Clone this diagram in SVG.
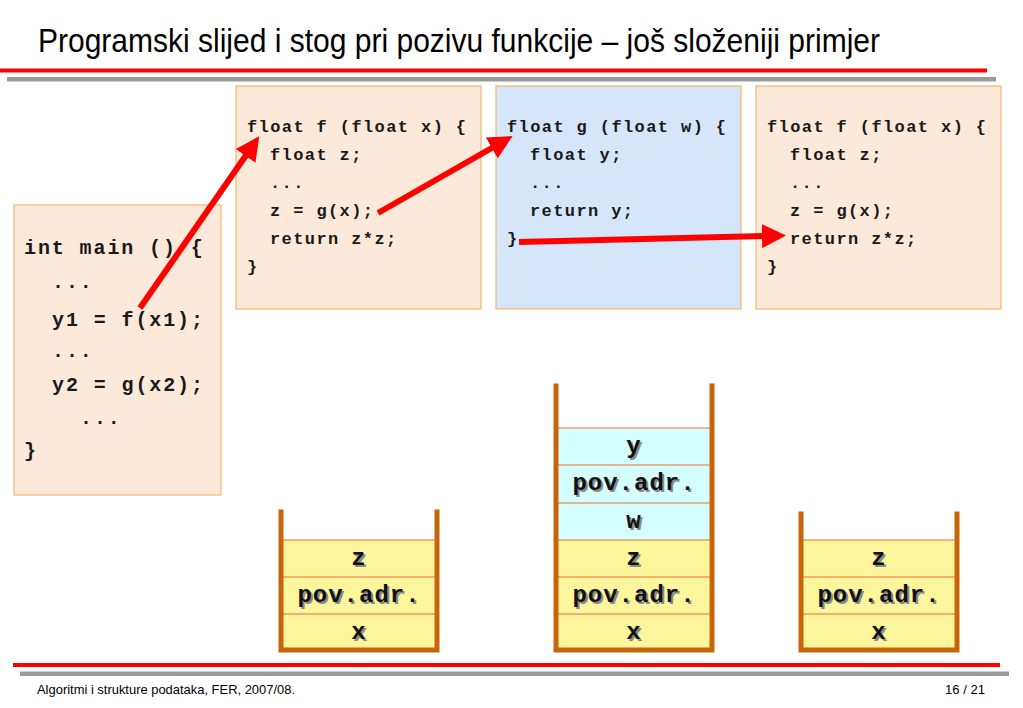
<svg xmlns="http://www.w3.org/2000/svg" width="1023" height="708" viewBox="0 0 1023 708">
<defs>
<style>
.code{font-family:"Liberation Mono","Courier New",monospace;font-weight:bold;font-size:17px;letter-spacing:1.4px;fill:#1a1a1a}
.main{font-family:"Liberation Mono","Courier New",monospace;font-weight:bold;font-size:20px;letter-spacing:1.9px;fill:#1a1a1a}
.stk{font-family:"Liberation Mono","Courier New",monospace;font-weight:bold;font-size:24px;letter-spacing:1px;text-anchor:middle}
.sh{fill:#8a8a8a}
.fg{fill:#111}
.peach{fill:#fde9d9;stroke:#f5b56e;stroke-width:1.2}
.blue{fill:#d5e6fa;stroke:#f5b56e;stroke-width:1.2}
.yel{fill:#fdf69c}
.cyan{fill:#d4ffff}
.div{stroke:#f26b2e;stroke-width:1.2}
.wall{stroke:#c8650a;stroke-width:5;fill:none;stroke-linecap:square}
.arr{stroke:#ff0000;stroke-width:6;fill:none}
.sans{font-family:"Liberation Sans",Arial,sans-serif;fill:#000}
</style>
<marker id="ah" markerWidth="4" markerHeight="4" refX="1" refY="2" orient="auto" markerUnits="strokeWidth" viewBox="0 0 4 4">
<path d="M0,0 L4,2 L0,4 z" fill="#ff0000"/>
</marker>
</defs>
<rect width="1023" height="708" fill="#ffffff"/>
<text class="sans" x="38" y="52" font-size="34" textLength="842" lengthAdjust="spacingAndGlyphs">Programski slijed i stog pri pozivu funkcije – još složeniji primjer</text>
<rect x="0" y="68.5" width="987" height="4" fill="#ff0000"/>
<rect x="7" y="77" width="989" height="4.5" fill="#9b9b9b"/>
<rect x="13" y="663" width="987" height="4" fill="#ff0000"/>
<rect x="20" y="671.5" width="989" height="4.5" fill="#9b9b9b"/>
<text class="sans" x="37" y="694" font-size="13.5" textLength="258" lengthAdjust="spacingAndGlyphs">Algoritmi i strukture podataka, FER, 2007/08.</text>
<text class="sans" x="985" y="694" font-size="13.5" text-anchor="end" textLength="40" lengthAdjust="spacingAndGlyphs">16 / 21</text>

<g id="main">
<rect class="peach" x="14" y="205" width="207" height="290"/>
<text class="main" x="24" y="254">int main () {</text>
<text class="main" x="52" y="288">...</text>
<text class="main" x="52" y="326">y1 = f(x1);</text>
<text class="main" x="52" y="357">...</text>
<text class="main" x="52" y="391">y2 = g(x2);</text>
<text class="main" x="80" y="424">...</text>
<text class="main" x="24" y="457">}</text>
</g>

<g id="f1">
<rect class="peach" x="236" y="86" width="245" height="223"/>
<text class="code" x="247" y="132">float f (float x) {</text>
<text class="code" x="270" y="160">float z;</text>
<text class="code" x="270" y="188">...</text>
<text class="code" x="270" y="216">z = g(x);</text>
<text class="code" x="270" y="244">return z*z;</text>
<text class="code" x="247" y="272">}</text>
</g>

<g id="g">
<rect class="blue" x="496" y="86" width="245" height="223"/>
<text class="code" x="507" y="132">float g (float w) {</text>
<text class="code" x="530" y="160">float y;</text>
<text class="code" x="530" y="188">...</text>
<text class="code" x="530" y="216">return y;</text>
<text class="code" x="507" y="244">}</text>
</g>

<g id="f2">
<rect class="peach" x="756" y="86" width="245" height="223"/>
<text class="code" x="767" y="132">float f (float x) {</text>
<text class="code" x="790" y="160">float z;</text>
<text class="code" x="790" y="188">...</text>
<text class="code" x="790" y="216">z = g(x);</text>
<text class="code" x="790" y="244">return z*z;</text>
<text class="code" x="767" y="272">}</text>
</g>

<g id="stack1">
<rect class="yel" x="283" y="540" width="152" height="110"/>
<line class="div" x1="283" y1="540" x2="435" y2="540"/>
<line class="div" x1="283" y1="577" x2="435" y2="577"/>
<line class="div" x1="283" y1="614" x2="435" y2="614"/>
<path class="wall" d="M281,512 V650 H437 V512"/>
<text class="stk sh" x="361" y="567">z</text><text class="stk fg" x="359" y="565">z</text>
<text class="stk sh" x="361" y="604">pov.adr.</text><text class="stk fg" x="359" y="602">pov.adr.</text>
<text class="stk sh" x="361" y="641">x</text><text class="stk fg" x="359" y="639">x</text>
</g>

<g id="stack2">
<rect class="cyan" x="558" y="428" width="152" height="112"/>
<rect class="yel" x="558" y="540" width="152" height="110"/>
<line class="div" x1="558" y1="428" x2="710" y2="428"/>
<line class="div" x1="558" y1="465" x2="710" y2="465"/>
<line class="div" x1="558" y1="503" x2="710" y2="503"/>
<line class="div" x1="558" y1="540" x2="710" y2="540"/>
<line class="div" x1="558" y1="577" x2="710" y2="577"/>
<line class="div" x1="558" y1="614" x2="710" y2="614"/>
<path class="wall" d="M556,386 V650 H712 V386"/>
<text class="stk sh" x="636" y="455">y</text><text class="stk fg" x="634" y="453">y</text>
<text class="stk sh" x="636" y="492">pov.adr.</text><text class="stk fg" x="634" y="490">pov.adr.</text>
<text class="stk sh" x="636" y="530">w</text><text class="stk fg" x="634" y="528">w</text>
<text class="stk sh" x="636" y="567">z</text><text class="stk fg" x="634" y="565">z</text>
<text class="stk sh" x="636" y="604">pov.adr.</text><text class="stk fg" x="634" y="602">pov.adr.</text>
<text class="stk sh" x="636" y="641">x</text><text class="stk fg" x="634" y="639">x</text>
</g>

<g id="stack3">
<rect class="yel" x="803" y="540" width="152" height="110"/>
<line class="div" x1="803" y1="540" x2="955" y2="540"/>
<line class="div" x1="803" y1="577" x2="955" y2="577"/>
<line class="div" x1="803" y1="614" x2="955" y2="614"/>
<path class="wall" d="M801,514 V650 H957 V514"/>
<text class="stk sh" x="881" y="567">z</text><text class="stk fg" x="879" y="565">z</text>
<text class="stk sh" x="881" y="604">pov.adr.</text><text class="stk fg" x="879" y="602">pov.adr.</text>
<text class="stk sh" x="881" y="641">x</text><text class="stk fg" x="879" y="639">x</text>
</g>

<g id="connectors">
<line class="arr" x1="140" y1="308" x2="249" y2="151" marker-end="url(#ah)"/>
<line class="arr" x1="378" y1="213" x2="497" y2="145" marker-end="url(#ah)"/>
<line class="arr" x1="519" y1="242" x2="768" y2="236" marker-end="url(#ah)"/>
</g>
</svg>
